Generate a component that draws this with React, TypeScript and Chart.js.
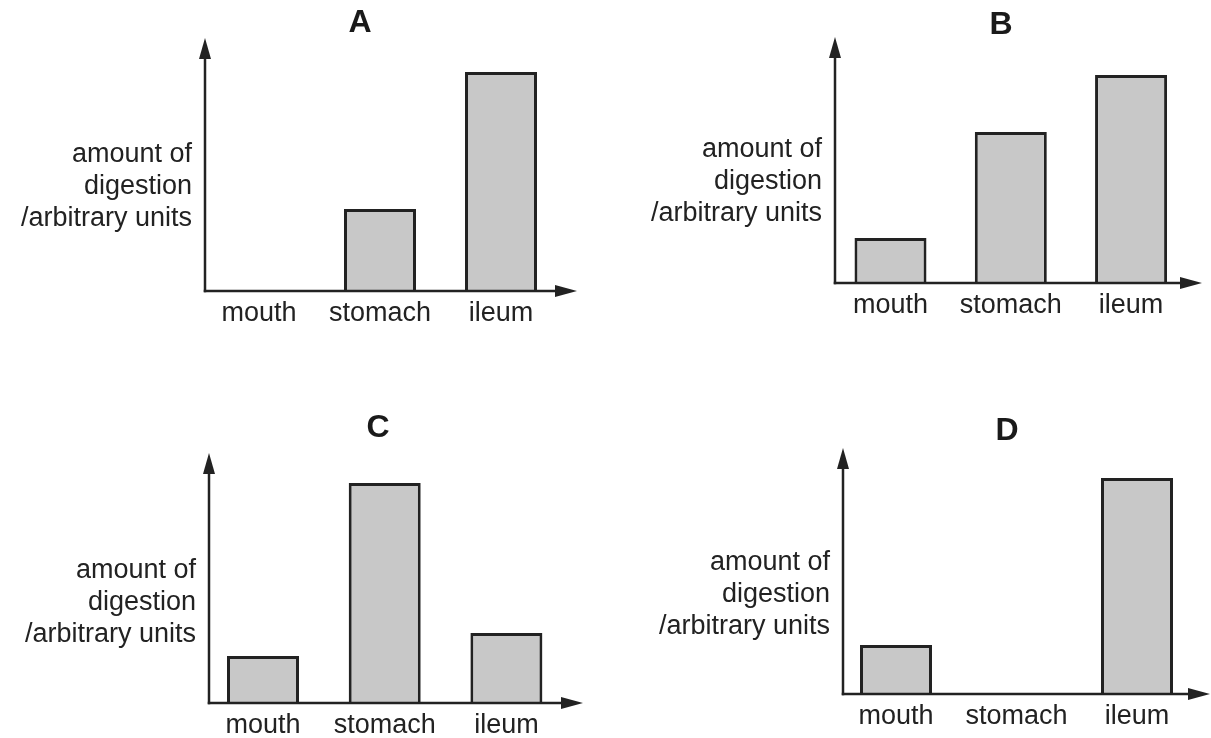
import React, { useEffect, useRef } from "react";
import { Chart, registerables } from "chart.js";

Chart.register(...registerables);

// ---------- data ----------
const categories = ["mouth", "stomach", "ileum"];
const panelTitles = ["A", "B", "C", "D"];
const valuesA = [0, 3.24, 8.66];
const valuesB = [1.83, 6.14, 8.46];
const valuesC = [1.88, 8.8, 2.8];
const valuesD = [1.99, 0, 8.78];
const yAxisLabelLines = ["amount of", "digestion", "/arbitrary units"];
const yMin = 0;
const yMax = 10;

// ---------- layout / style ----------
type Layout = {
  left: number;
  top: number;
  width: number;
  height: number;
  axisX: number;
  axisY: number;
  topY: number;
  rightX: number;
  firstCenter: number;
  spacing: number;
  titleX: number;
  titleY: number;
  labelY: number;
};

const layouts: Layout[] = [
  { left: 0, top: 0, width: 605, height: 369, axisX: 205, axisY: 291, topY: 38, rightX: 577, firstCenter: 259, spacing: 121, titleX: 360, titleY: 23, labelY: 162 },
  { left: 605, top: 0, width: 606, height: 369, axisX: 230, axisY: 283, topY: 37, rightX: 597, firstCenter: 285.5, spacing: 120.3, titleX: 396, titleY: 25, labelY: 157 },
  { left: 0, top: 369, width: 605, height: 369, axisX: 209, axisY: 334, topY: 84, rightX: 583, firstCenter: 263, spacing: 121.7, titleX: 378, titleY: 59, labelY: 209 },
  { left: 605, top: 369, width: 606, height: 369, axisX: 238, axisY: 325, topY: 79, rightX: 605, firstCenter: 291, spacing: 120.5, titleX: 402, titleY: 62, labelY: 201 },
];

const FONT = "'Liberation Sans', Arial, Helvetica, sans-serif";
const TEXT = "#222222";
const INK = "#222222";
const BAR_FILL = "#c8c8c8";

function makeAxesPlugin(layout: Layout, title: string) {
  return {
    id: "sketchAxes" + title,
    afterDatasetsDraw(chart: any) {
      const { ctx, chartArea } = chart;
      const { left, right, top, bottom } = chartArea;
      ctx.save();
      ctx.strokeStyle = INK;
      ctx.fillStyle = INK;
      ctx.lineWidth = 2.5;
      ctx.lineCap = "butt";
      // y axis
      ctx.beginPath();
      ctx.moveTo(left, bottom + 1.25);
      ctx.lineTo(left, top + 18);
      ctx.stroke();
      ctx.beginPath();
      ctx.moveTo(left, top);
      ctx.lineTo(left - 6, top + 21);
      ctx.lineTo(left + 6, top + 21);
      ctx.closePath();
      ctx.fill();
      // x axis
      ctx.beginPath();
      ctx.moveTo(left - 1.25, bottom);
      ctx.lineTo(right - 18, bottom);
      ctx.stroke();
      ctx.beginPath();
      ctx.moveTo(right, bottom);
      ctx.lineTo(right - 22, bottom - 6);
      ctx.lineTo(right - 22, bottom + 6);
      ctx.closePath();
      ctx.fill();

      // y axis label
      ctx.fillStyle = TEXT;
      ctx.font = `27px ${FONT}`;
      ctx.textAlign = "right";
      ctx.textBaseline = "alphabetic";
      yAxisLabelLines.forEach((line, i) => {
        ctx.fillText(line, left - 13, layout.labelY + i * 32);
      });

      // panel title
      ctx.fillStyle = "#1a1a1a";
      ctx.font = `bold 32px ${FONT}`;
      ctx.textAlign = "center";
      ctx.textBaseline = "middle";
      ctx.fillText(title, layout.titleX, layout.titleY);
      ctx.restore();
    },
  };
}

function Panel({ layout, values, title }: { layout: Layout; values: number[]; title: string }) {
  const ref = useRef<HTMLCanvasElement | null>(null);

  useEffect(() => {
    if (!ref.current) return;
    const xMin = 1 - (layout.firstCenter - layout.axisX) / layout.spacing;
    const xMax = 1 + (layout.rightX - layout.firstCenter) / layout.spacing;
    const chart = new Chart(ref.current, {
      type: "bar",
      data: {
        datasets: [
          {
            data: categories.map((c, i) => ({ x: i + 1, y: values[i] })),
            backgroundColor: BAR_FILL,
            borderColor: INK,
            borderWidth: 3,
            borderSkipped: "bottom",
            barPercentage: 72 / layout.spacing,
            categoryPercentage: 1,
          },
        ],
      },
      options: {
        animation: false,
        responsive: false,
        events: [],
        layout: {
          padding: {
            left: layout.axisX,
            top: layout.topY,
            right: layout.width - layout.rightX,
            bottom: 0,
          },
        },
        plugins: {
          legend: { display: false },
          tooltip: { enabled: false },
          title: { display: false },
        },
        scales: {
          x: {
            type: "linear",
            offset: false,
            bounds: "data",
            min: xMin,
            max: xMax,
            grid: { display: false, drawTicks: false, offset: false },
            border: { display: false },
            afterBuildTicks: (scale: any) => {
              scale.ticks = categories.map((_, i) => ({ value: i + 1 }));
            },
            afterFit: (scale: any) => {
              scale.height = layout.height - layout.axisY;
            },
            ticks: {
              autoSkip: false,
              maxRotation: 0,
              padding: 6,
              color: TEXT,
              font: { family: FONT, size: 27, lineHeight: 1.2 },
              callback: (v: any) => categories[Math.round(Number(v)) - 1] ?? "",
            },
          },
          y: {
            display: false,
            min: yMin,
            max: yMax,
          },
        },
      },
      plugins: [makeAxesPlugin(layout, title)],
    } as any);
    return () => chart.destroy();
  }, [layout, values, title]);

  return (
    <canvas
      ref={ref}
      width={layout.width}
      height={layout.height}
      style={{
        position: "absolute",
        left: layout.left,
        top: layout.top,
        width: layout.width,
        height: layout.height,
      }}
    />
  );
}

const panelValues = [valuesA, valuesB, valuesC, valuesD];

export default function App() {
  return (
    <div
      style={{
        position: "absolute",
        left: 0,
        top: 0,
        width: 1211,
        height: 738,
        background: "#ffffff",
        overflow: "hidden",
      }}
    >
      {layouts.map((l, i) => (
        <Panel key={i} layout={l} values={panelValues[i]} title={panelTitles[i]} />
      ))}
    </div>
  );
}
